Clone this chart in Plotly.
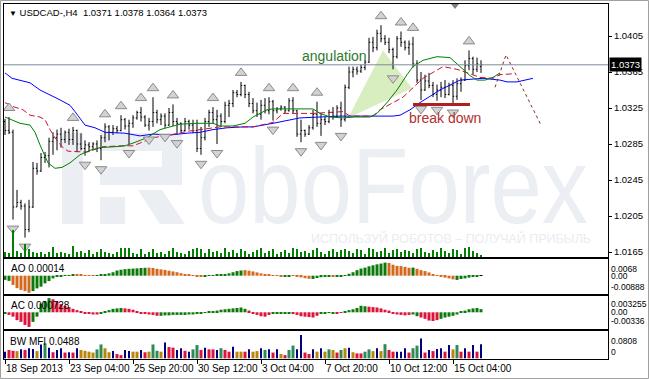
import base64
import plotly.graph_objects as go

# ---------------- data ----------------
opens = [1.0310,1.0300,1.0298,1.0215,1.0220,1.0216,1.0190,1.0215,1.0258,1.0255,
         1.0270,1.0272,1.0288,1.0292,1.0296,1.0290,1.0298,1.0290,1.0300,1.0285,
         1.0280,1.0284,1.0282,1.0285,1.0280,1.0292,1.0304,1.0298,1.0302,1.0300,
         1.0312,1.0305,1.0308,1.0314,1.0320,1.0315,1.0306,1.0310,1.0320,1.0312,
         1.0316,1.0306,1.0320,1.0310,1.0308,1.0300,1.0310,1.0306,1.0300,1.0280,
         1.0292,1.0310,1.0320,1.0312,1.0316,1.0310,1.0328,1.0330,1.0342,1.0340,
         1.0350,1.0340,1.0330,1.0322,1.0318,1.0328,1.0322,1.0332,1.0322,1.0324,
         1.0326,1.0322,1.0333,1.0322,1.0296,1.0300,1.0296,1.0303,1.0318,1.0308,
         1.0312,1.0310,1.0320,1.0316,1.0325,1.0312,1.0348,1.0365,1.0368,1.0366,
         1.0370,1.0376,1.0398,1.0392,1.0408,1.0402,1.0398,1.0390,1.0382,1.0402,
         1.0398,1.0392,1.0396,1.0374,1.0356,1.0345,1.0355,1.0350,1.0340,1.0345,
         1.0348,1.0340,1.0350,1.0338,1.0352,1.0356,1.0372,1.0380,1.0368,1.0371]
highs = [1.0313,1.0315,1.0301,1.0234,1.0223,1.0219,1.0223,1.0265,1.0264,1.0275,
         1.0276,1.0292,1.0298,1.0301,1.0303,1.0300,1.0302,1.0304,1.0301,1.0297,
         1.0289,1.0287,1.0287,1.0289,1.0295,1.0308,1.0306,1.0306,1.0305,1.0317,
         1.0314,1.0312,1.0317,1.0322,1.0326,1.0317,1.0314,1.0337,1.0323,1.0319,
         1.0319,1.0325,1.0329,1.0314,1.0309,1.0314,1.0312,1.0312,1.0312,1.0304,
         1.0314,1.0323,1.0326,1.0323,1.0319,1.0332,1.0334,1.0345,1.0345,1.0354,
         1.0351,1.0343,1.0336,1.0331,1.0334,1.0336,1.0337,1.0334,1.0326,1.0328,
         1.0327,1.0336,1.0337,1.0323,1.0312,1.0301,1.0306,1.0323,1.0332,1.0319,
         1.0315,1.0323,1.0326,1.0328,1.0332,1.0351,1.0371,1.0371,1.0371,1.0373,
         1.0378,1.0403,1.0404,1.0412,1.0417,1.0406,1.0403,1.0392,1.0405,1.0410,
         1.0400,1.0400,1.0404,1.0378,1.0365,1.0362,1.0364,1.0354,1.0351,1.0354,
         1.0356,1.0353,1.0356,1.0358,1.0359,1.0378,1.0389,1.0382,1.0381,1.0378]
lows = [1.0295,1.0296,1.0201,1.0215,1.0212,1.0181,1.0187,1.0214,1.0251,1.0254,
        1.0264,1.0259,1.0273,1.0278,1.0281,1.0286,1.0284,1.0284,1.0276,1.0278,
        1.0272,1.0276,1.0279,1.0276,1.0267,1.0287,1.0289,1.0295,1.0297,1.0299,
        1.0301,1.0285,1.0303,1.0312,1.0310,1.0304,1.0300,1.0304,1.0308,1.0306,
        1.0303,1.0305,1.0305,1.0296,1.0298,1.0299,1.0301,1.0297,1.0276,1.0273,
        1.0289,1.0304,1.0308,1.0285,1.0304,1.0308,1.0315,1.0326,1.0337,1.0338,
        1.0336,1.0326,1.0319,1.0315,1.0312,1.0319,1.0318,1.0311,1.0319,1.0322,
        1.0319,1.0321,1.0319,1.0293,1.0287,1.0293,1.0295,1.0301,1.0304,1.0294,
        1.0306,1.0308,1.0312,1.0315,1.0304,1.0310,1.0346,1.0359,1.0362,1.0364,
        1.0367,1.0375,1.0387,1.0389,1.0398,1.0395,1.0386,1.0368,1.0380,1.0393,
        1.0389,1.0384,1.0370,1.0353,1.0334,1.0344,1.0347,1.0337,1.0333,1.0337,
        1.0336,1.0339,1.0330,1.0334,1.0343,1.0355,1.0367,1.0362,1.0365,1.0364]
closes = [1.0300,1.0298,1.0215,1.0220,1.0216,1.0190,1.0215,1.0258,1.0255,1.0270,
          1.0272,1.0288,1.0292,1.0296,1.0290,1.0298,1.0290,1.0300,1.0285,1.0280,
          1.0284,1.0282,1.0285,1.0280,1.0292,1.0304,1.0298,1.0302,1.0300,1.0312,
          1.0305,1.0308,1.0314,1.0320,1.0315,1.0306,1.0310,1.0320,1.0312,1.0316,
          1.0306,1.0320,1.0310,1.0308,1.0300,1.0310,1.0306,1.0300,1.0280,1.0292,
          1.0310,1.0320,1.0312,1.0316,1.0310,1.0328,1.0330,1.0342,1.0340,1.0350,
          1.0340,1.0330,1.0322,1.0318,1.0328,1.0322,1.0332,1.0322,1.0324,1.0326,
          1.0322,1.0333,1.0322,1.0296,1.0300,1.0296,1.0303,1.0318,1.0308,1.0312,
          1.0310,1.0320,1.0316,1.0325,1.0312,1.0348,1.0365,1.0368,1.0366,1.0370,
          1.0376,1.0398,1.0392,1.0408,1.0402,1.0398,1.0390,1.0382,1.0402,1.0398,
          1.0392,1.0396,1.0374,1.0356,1.0345,1.0355,1.0350,1.0340,1.0345,1.0348,
          1.0340,1.0350,1.0338,1.0352,1.0356,1.0372,1.0380,1.0368,1.0374,1.0373]
volumes = [500,400,2700,600,400,1300,800,500,400,500,300,500,1000,400,500,400,300,1100,500,600,
           400,700,300,500,800,500,400,300,500,900,900,900,400,300,800,300,500,800,400,500,
           300,600,900,500,400,300,600,800,900,800,400,800,500,600,400,900,500,700,400,800,
           600,300,500,700,900,400,600,800,300,500,700,400,900,800,500,600,400,700,900,500,
           300,600,800,500,700,800,600,400,800,700,300,900,800,500,600,900,400,700,800,500,
           700,600,400,800,900,500,400,700,500,900,600,400,800,700,300,900,1000,600,400,200]

time_tick_bars = [0, 16, 32, 48, 64, 80, 96, 112]
time_tick_labels = ["18 Sep 2013", "23 Sep 04:00", "25 Sep 20:00", "30 Sep 12:00",
                    "3 Oct 04:00", "7 Oct 20:00", "10 Oct 12:00", "15 Oct 04:00"]
price_ticks = [1.0165, 1.0205, 1.0245, 1.0285, 1.0325, 1.0365, 1.0405]
last_price = 1.0373
header_text = "USDCAD-,H4  1.0371 1.0378 1.0364 1.0373"
watermark_word = "oboForex"
watermark_slogan = "ИСПОЛЬЗУЙ РОБОТОВ – ПОЛУЧАЙ ПРИБЫЛЬ"

# Alligator lines (bar index, price)
jaw_x = [0,1.75,6.25,8.75,13.75,16.25,17.5,20,22.5,25,30,33.75,37,41.25,45.5,48.75,52,55.5,59.5,62,
         67,73.75,78.75,83.75,90,97,98.75,101.25,103.75,108.75,113.75,116.25,119.5,123.75,125.5,128,132]
jaw_y = [1.0364,1.0358,1.0353,1.0345,1.0334,1.0328,1.0321,1.0306,1.0303,1.0298,1.0297,1.0294,1.0296,
         1.0295,1.0297,1.0298,1.0301,1.0303,1.0304,1.0304,1.0308,1.0314,1.0315,1.0316,1.0316,1.0316,
         1.0317,1.0323,1.0331,1.0345,1.0356,1.0357,1.0358,1.0356,1.0354,1.0354,1.0358]
teeth_x = [0,1.75,4.5,6.25,8.75,10,11.25,12.5,14.25,15.75,20.5,24.5,29.5,32,33.75,37,41.25,45.5,53.75,
           60,62,65,67,69.5,77,84.5,86.25,92,93.75,99.5,102,104.5,109.5,113,116.25,118.75,122,123.75,127]
teeth_y = [1.0331,1.0327,1.0323,1.0317,1.0315,1.0312,1.0301,1.0292,1.0282,1.0277,1.0276,1.0282,1.0283,
           1.0283,1.0286,1.0292,1.0295,1.0299,1.0304,1.0304,1.0304,1.0307,1.0309,1.0319,1.0319,1.0321,
           1.0316,1.0316,1.0323,1.0337,1.0347,1.0358,1.0371,1.0368,1.0363,1.0359,1.0358,1.0362,1.0363]
lips_x = [0,1.75,3.75,6.25,7.5,8.75,10.75,12.5,14.25,16.25,18.75,21.25,23.75,27.5,30,32,35.5,38.75,41.25,
          43.75,48,52,53.75,57,60,62,65.5,67,71.25,77,78.75,81.25,84.5,87.5,91.25,93,95.5,98,100.5,102,
          104.5,108,111.25,113.75,116.25,118,120,122,123.75]
lips_y = [1.0315,1.0312,1.0308,1.0306,1.0298,1.0284,1.0264,1.0258,1.0259,1.0264,1.0273,1.0278,1.0281,
          1.0282,1.0283,1.0286,1.0292,1.0301,1.0304,1.0307,1.0308,1.0308,1.0305,1.0305,1.0308,1.0315,
          1.0323,1.0324,1.0324,1.0324,1.0319,1.0315,1.0314,1.0315,1.0315,1.0319,1.0331,1.0345,1.0362,
          1.0371,1.0378,1.0382,1.0381,1.0371,1.0361,1.0356,1.0356,1.0359,1.0364]

up_fractals = [1, 17, 25, 29, 34, 37, 42, 52, 59, 66, 72, 78, 94, 99, 102, 116]
down_fractals = [2, 5, 20, 24, 31, 36, 40, 43, 49, 53, 67, 74, 79, 84, 97, 104, 108, 112]

angulation_x = [85.75, 94.5, 101.75]
angulation_y = [1.0314, 1.0389, 1.0347]
angulation_label = (82.25, 1.0383)
breakdown_x = [102, 116.25]
breakdown_level = 1.0329
breakdown_label = (110, 1.0314)
forecast_x = [122.5, 125.25, 134]
forecast_y = [1.0348, 1.0384, 1.0306]

ao_values = [-0.0022,-0.0027,-0.0048,-0.0065,-0.0074,-0.0080,-0.00888,-0.0080,-0.0066,-0.0057,
             -0.0040,-0.0028,-0.0014,-0.0007,-0.0003,0.0002,0.0003,0.0004,0.0005,0.0004,
             0.0003,0.0003,0.0002,0.0002,0.0004,0.0008,0.0012,0.0018,0.0027,0.0031,
             0.0034,0.0036,0.0037,0.0038,0.0040,0.0041,0.0042,0.0040,0.0036,0.0033,
             0.0030,0.0026,0.0022,0.0018,0.0013,0.0008,0.0004,0.0001,-0.0002,-0.0004,
             -0.0003,-0.0001,0.0003,0.0005,0.0006,0.0008,0.0012,0.0018,0.0024,0.0027,
             0.0029,0.0026,0.0022,0.0017,0.0012,0.0008,0.0005,0.0003,0.0001,-0.0002,
             -0.0003,-0.0002,-0.0001,-0.0004,-0.0009,-0.0013,-0.0016,-0.0017,-0.0012,-0.0008,
             -0.0006,-0.0005,-0.0004,-0.0005,-0.0002,0.0002,0.0010,0.0018,0.0029,0.0037,
             0.0042,0.0049,0.0054,0.0059,0.0063,0.0068,0.0066,0.0057,0.0051,0.0050,
             0.0046,0.0041,0.0042,0.0036,0.0029,0.0024,0.0017,0.0007,0.0002,-0.0003,
             -0.0010,-0.0014,-0.0019,-0.0022,-0.0017,-0.0014,-0.0010,-0.0007,-0.0003,0.00014]
ao_colors = list("ggooooogggggggggggooooogggggggggggggooooooooooooooggggggggggooooooooooggooooogggggogggggggggggggoooooogoooooooooogggggg")
ac_values = [-0.0003,-0.0006,-0.0010,-0.0018,-0.0022,-0.0029,-0.00336,-0.0022,-0.0010,0.0020,
             0.0026,0.003255,0.0030,0.0025,0.0019,0.0015,0.0012,0.0008,0.0005,0.0002,
             -0.0002,-0.0004,-0.0005,-0.0005,-0.0003,0.0002,0.0005,0.0008,0.0009,0.0010,
             0.0009,0.0008,0.0006,0.0003,-0.0002,-0.0004,-0.0005,-0.0006,-0.0008,-0.0008,
             -0.0007,-0.0007,-0.0006,-0.0006,-0.0006,-0.0006,-0.0005,-0.0005,-0.0004,-0.0002,
             -0.0001,0.0001,0.0002,0.0004,0.0006,0.0007,0.0008,0.0009,0.0010,0.0011,
             0.0008,0.0004,-0.0003,-0.0006,-0.0009,-0.0010,-0.0006,-0.0004,-0.0003,-0.0002,
             -0.0002,-0.0003,-0.0004,-0.0006,-0.0009,-0.0010,-0.0011,-0.0012,-0.0008,-0.0004,
             -0.0002,-0.0001,-0.0002,-0.0003,-0.0001,0.0003,0.0005,0.0007,0.0010,0.0015,
             0.0014,0.0013,0.0012,0.0011,0.0009,0.0006,0.0004,-0.0002,-0.0005,-0.0006,
             -0.0007,-0.0006,-0.0005,-0.0009,-0.0012,-0.0015,-0.0019,-0.0020,-0.0018,-0.0015,
             -0.0012,-0.0010,-0.0008,-0.0005,0.0001,0.0004,0.0007,0.0009,0.0010,0.000728]
ac_colors = list("grrrrrrggggg" + "rrrrrrrrrrrr" + "gggggg" + "rrrrrrrrr" + "gggggggggggggggggggggg" +
                 "rrrrrr" + "ggggg" + "rrrrrrr" + "gggg" + "rr" + "gggggg" + "rrrrrrrrrrr" + "gg" +
                 "rrrrr" + "gggggggggggg" + "r")
mfi_values = [0.023,0.029,0.026,0.025,0.031,0.029,0.035,0.032,0.025,0.048,
              0.052,0.037,0.021,0.029,0.035,0.020,0.021,0.020,0.035,0.029,
              0.026,0.023,0.020,0.031,0.048,0.035,0.021,0.025,0.015,0.011,
              0.029,0.025,0.023,0.023,0.029,0.021,0.023,0.048,0.026,0.023,
              0.055,0.039,0.037,0.029,0.035,0.026,0.023,0.031,0.046,0.029,
              0.037,0.031,0.031,0.029,0.035,0.029,0.023,0.040,0.023,0.023,
              0.023,0.031,0.023,0.025,0.035,0.029,0.031,0.020,0.031,0.015,
              0.011,0.029,0.044,0.031,0.0808,0.020,0.015,0.031,0.023,0.035,
              0.023,0.031,0.029,0.020,0.029,0.035,0.037,0.021,0.017,0.017,
              0.023,0.031,0.025,0.035,0.025,0.049,0.029,0.023,0.023,0.023,
              0.035,0.020,0.035,0.044,0.069,0.020,0.029,0.025,0.032,0.035,
              0.023,0.046,0.031,0.046,0.023,0.035,0.023,0.046,0.023,0.0488]
mfi_colors = list("brrybrbbybgbrbbrbrbyyyyggyybrrbbyybryggybrrbbrbggrbrrbgrrbyyrbyybgbrbyrggbbrrbybygyrgybyrrggybygrrbbbrggbrbrbbrbygrbrbrb")

# ---------------- styling ----------------
FONT = "Liberation Sans, Arial, sans-serif"
AO_COL = {"g": "#0b7a0b", "o": "#d2691e"}
AC_COL = {"g": "#0b7a0b", "r": "#dc143c"}
MFI_COL = {"g": "#2e8b57", "r": "#dc143c", "y": "#b8860b", "b": "#000080"}
MFI_W = {"g": 0.75, "r": 0.75, "y": 0.75, "b": 0.3}

W, H = 649, 379
ML, MR, MT, MB = 4, 41, 4, 20
PH = H - MT - MB
PW = W - ML - MR
def ypaper(py):  # pixel row -> paper fraction
    return (H - MB - py) / PH
def xpaper(px):
    return (px - ML) / PW

bars = list(range(len(closes)))
XR = [-0.25, 150.75]

fig = go.Figure()

# volumes (overlay on main panel)
fig.add_trace(go.Bar(x=bars, y=volumes, width=0.3, marker_color="#008000", marker_line_width=0,
                     xaxis="x", yaxis="y5", hoverinfo="skip"))
# alligator
fig.add_trace(go.Scatter(x=jaw_x, y=jaw_y, mode="lines", line=dict(color="#0000ff", width=1), hoverinfo="skip"))
fig.add_trace(go.Scatter(x=teeth_x, y=teeth_y, mode="lines", line=dict(color="#d01035", width=1, dash="6px,3px"), hoverinfo="skip"))
fig.add_trace(go.Scatter(x=lips_x, y=lips_y, mode="lines", line=dict(color="#008000", width=1), hoverinfo="skip"))
# price bars
fig.add_trace(go.Ohlc(x=bars, open=opens, high=highs, low=lows, close=closes, tickwidth=0.3,
                      increasing_line=dict(color="black", width=1),
                      decreasing_line=dict(color="black", width=1), hoverinfo="skip"))
# fractals
off = 0.0010
fig.add_trace(go.Scatter(x=up_fractals, y=[highs[i] + off for i in up_fractals], mode="markers",
                         marker=dict(symbol="triangle-up", size=10, color="#d2d2d2",
                                     line=dict(color="#8a8a8a", width=1)), hoverinfo="skip"))
fig.add_trace(go.Scatter(x=down_fractals, y=[lows[i] - off for i in down_fractals], mode="markers",
                         marker=dict(symbol="triangle-down", size=10, color="#d2d2d2",
                                     line=dict(color="#8a8a8a", width=1)), hoverinfo="skip"))
# break down line and forecast
fig.add_trace(go.Scatter(x=breakdown_x, y=[breakdown_level] * 2, mode="lines",
                         line=dict(color="#b01e1e", width=3), hoverinfo="skip"))
fig.add_trace(go.Scatter(x=forecast_x, y=forecast_y, mode="lines",
                         line=dict(color="#8b2a2a", width=1, dash="3px,3px"), hoverinfo="skip"))

# AO / AC / MFI
fig.add_trace(go.Bar(x=bars, y=ao_values, width=0.75, marker_color=[AO_COL[c] for c in ao_colors],
                     marker_line_width=0, xaxis="x2", yaxis="y2", hoverinfo="skip"))
fig.add_trace(go.Bar(x=bars, y=ac_values, width=0.75, marker_color=[AC_COL[c] for c in ac_colors],
                     marker_line_width=0, xaxis="x3", yaxis="y3", hoverinfo="skip"))
fig.add_trace(go.Bar(x=bars, y=mfi_values, width=[MFI_W[c] for c in mfi_colors],
                     marker_color=[MFI_COL[c] for c in mfi_colors],
                     marker_line_width=0, xaxis="x4", yaxis="y4", hoverinfo="skip"))

ax_common = dict(showline=True, mirror=True, linecolor="black", linewidth=1, showgrid=False,
                 zeroline=False, range=XR, fixedrange=True, automargin=False)
ay_common = dict(side="right", showline=True, mirror=True, linecolor="black", showgrid=False,
                 zeroline=False, automargin=False, fixedrange=True)
dom_main = [ypaper(257), 1.0]
dom_ao = [ypaper(294), ypaper(259)]
dom_ac = [ypaper(329), ypaper(296)]
dom_mfi = [0.0, ypaper(331)]

tickfont = dict(family=FONT, size=9.5, color="black")
fig.update_layout(
    width=W, height=H, margin=dict(l=ML, r=MR, t=MT, b=MB, autoexpand=False),
    paper_bgcolor="white", plot_bgcolor="white", showlegend=False, barmode="overlay",
    font=dict(family=FONT, size=10, color="black"),
    xaxis=dict(**ax_common, anchor="y", showticklabels=False, ticks="", rangeslider=dict(visible=False)),
    yaxis=dict(**ay_common, domain=dom_main, range=[1.015944, 1.044056], tickvals=price_ticks,
               tickformat=".4f", ticks="outside", ticklen=3, tickcolor="black", tickfont=tickfont),
    yaxis5=dict(overlaying="y", range=[0, 25300], visible=False, fixedrange=True),
    xaxis2=dict(**ax_common, anchor="y2", showticklabels=False),
    yaxis2=dict(**ay_common, domain=dom_ao, range=[-0.00952, 0.00868], showticklabels=False),
    xaxis3=dict(**ax_common, anchor="y3", showticklabels=False),
    yaxis3=dict(**ay_common, domain=dom_ac, range=[-0.00384, 0.00375], showticklabels=False),
    xaxis4=dict(**ax_common, anchor="y4", tickvals=time_tick_bars, ticktext=time_tick_labels,
                ticks="outside", ticklen=4, tickcolor="black", ticklabelposition="outside right",
                tickangle=0, tickfont=dict(family=FONT, size=10, color="black")),
    yaxis4=dict(**ay_common, domain=dom_mfi, range=[-0.0024, 0.0947], showticklabels=False),
)

# ---- watermark as an SVG image drawn below the traces (figure-pixel coordinates) ----
WM = "#ebeef2"
svg = (
    f'<svg xmlns="http://www.w3.org/2000/svg" width="{PW}" height="253" viewBox="{ML} 4 {PW} 253">'
    f'<g fill="{WM}">'
    '<rect x="62" y="133" width="21" height="91"/>'
    '<rect x="100" y="133" width="82" height="18"/>'
    '<rect x="162" y="133" width="20" height="52"/>'
    '<rect x="100" y="167" width="82" height="18"/>'
    '<rect x="100" y="197" width="25" height="27"/>'
    '<polygon points="138,190 162,190 185,224 160,224"/>'
    '</g>'
    f'<text x="198" y="223" font-family="Liberation Sans, Arial" font-size="108" fill="{WM}" '
    f'textLength="390" lengthAdjust="spacingAndGlyphs">{watermark_word}</text>'
    f'<text x="311" y="243" font-family="Liberation Sans, Arial" font-size="13" fill="#e9edf1" '
    f'textLength="280" lengthAdjust="spacingAndGlyphs">{watermark_slogan}</text>'
    '</svg>'
)
fig.add_layout_image(dict(source="data:image/svg+xml;base64," + base64.b64encode(svg.encode("utf-8")).decode(),
                          xref="paper", yref="paper", x=0, y=1, sizex=1, sizey=1 - dom_main[0],
                          xanchor="left", yanchor="top", sizing="stretch", layer="below"))

shapes = []
# angulation fill
path = "M " + " L ".join(f"{x},{y}" for x, y in zip(angulation_x, angulation_y)) + " Z"
shapes.append(dict(type="path", xref="x", yref="y", path=path, layer="below",
                   fillcolor="rgba(190,225,150,0.6)", line=dict(width=0)))
# current price line
shapes.append(dict(type="line", xref="x domain", yref="y", x0=0, x1=1, y0=last_price, y1=last_price,
                   line=dict(color="#7d8b99", width=1)))
# chart shift marker
shapes.append(dict(type="path", xref="paper", yref="paper",
                   path=f"M {xpaper(451)},{ypaper(4)} L {xpaper(459)},{ypaper(4)} L {xpaper(455)},{ypaper(9)} Z",
                   fillcolor="#808080", line=dict(width=0)))
# outer frame
shapes.append(dict(type="rect", xref="paper", yref="paper", x0=xpaper(0.5), x1=xpaper(648.5),
                   y0=ypaper(378.5), y1=ypaper(0.5), line=dict(color="#a0a0a0", width=1)))
fig.update_layout(shapes=shapes)

ann = []
ann.append(dict(xref="paper", yref="paper", x=xpaper(7), y=ypaper(12.5), xanchor="left", yanchor="middle",
                text="<span style='font-size:8px'>▼</span> " + header_text, showarrow=False,
                font=dict(family=FONT, size=9.5, color="black")))
ann.append(dict(xref="paper", yref="y", x=1, xshift=1, y=last_price, xanchor="left", yanchor="middle",
                text=f"{last_price:.4f}", showarrow=False, bgcolor="black", borderpad=1,
                font=dict(family=FONT, size=9.5, color="white")))
ann.append(dict(xref="x", yref="y", x=angulation_label[0], y=angulation_label[1], text="angulation",
                showarrow=False, font=dict(family=FONT, size=14, color="#2d7a2d")))
ann.append(dict(xref="x", yref="y", x=breakdown_label[0], y=breakdown_label[1], text="break down",
                showarrow=False, font=dict(family=FONT, size=14, color="#b03030")))
# sub-window titles
ann.append(dict(xref="paper", yref="paper", x=xpaper(9), y=ypaper(268.5), xanchor="left", yanchor="middle",
                text=f"AO {ao_values[-1]:.5f}", showarrow=False, font=dict(family=FONT, size=10)))
ann.append(dict(xref="paper", yref="paper", x=xpaper(9), y=ypaper(305), xanchor="left", yanchor="middle",
                text=f"AC {ac_values[-1]:.6f}", showarrow=False, font=dict(family=FONT, size=10)))
ann.append(dict(xref="paper", yref="paper", x=xpaper(8), y=ypaper(341.5), xanchor="left", yanchor="middle",
                text=f"BW MFI {mfi_values[-1]:.4f}", showarrow=False, font=dict(family=FONT, size=10)))
# sub-window scales
def scale_label(yref, val, text, anchor):
    return dict(xref="paper", yref=yref, x=1, xshift=2, y=val, xanchor="left", yanchor=anchor,
                text=text, showarrow=False, borderpad=0,
                font=dict(family=FONT, size=8.5, color="black"))
ao_max, ao_min = max(ao_values), min(ao_values)
ac_max, ac_min = max(ac_values), min(ac_values)
ann += [scale_label("y2", ao_max, f"{ao_max:.4f}", "top"), scale_label("y2", 0, "0.00", "middle"),
        scale_label("y2", ao_min, f"{ao_min:.5f}", "bottom"),
        scale_label("y3", ac_max, f"{ac_max:.6f}", "top"), scale_label("y3", 0, "0.00", "middle"),
        scale_label("y3", ac_min, f"{ac_min:.5f}", "bottom"),
        scale_label("y4", max(mfi_values), f"{max(mfi_values):.4f}", "top"),
        scale_label("y4", 0, "0", "bottom")]
fig.update_layout(annotations=ann)

fig.write_html("out.html")
